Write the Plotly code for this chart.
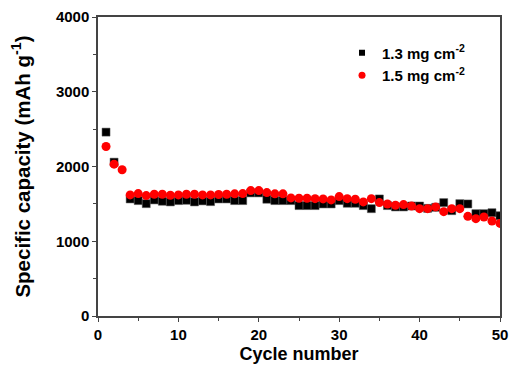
import plotly.graph_objects as go

cycles = list(range(1, 51))
cap_13 = [2460, 2058, None, 1566, 1544, 1503, 1553, 1535, 1526, 1544,
          1548, 1526, 1540, 1530, 1566, 1566, 1544, 1544, 1647, 1647,
          1562, 1544, 1544, 1544, 1477, 1477, 1477, 1499, 1499, 1544,
          1508, 1508, 1477, 1436, 1566, 1477, 1459, 1459, 1472, 1472,
          1440, 1454, 1517, 1409, 1503, 1499, 1369, 1369, 1382, 1342]
cap_15 = [2268, 2031, 1956, 1620, 1638, 1611, 1629, 1629, 1615, 1620,
          1629, 1629, 1620, 1620, 1625, 1629, 1634, 1638, 1678, 1678,
          1651, 1634, 1634, 1580, 1575, 1575, 1570, 1566, 1553, 1597,
          1570, 1562, 1526, 1570, 1517, 1499, 1481, 1490, 1472, 1436,
          1436, 1459, 1396, 1436, 1436, 1333, 1302, 1324, 1271, 1239]
names = ["1.3 mg cm<sup>-2</sup>", "1.5 mg cm<sup>-2</sup>"]

FONT = "Arial, Liberation Sans, sans-serif"
AX = "#444444"

fig = go.Figure()
fig.add_trace(go.Scatter(
    x=cycles, y=cap_13, mode="markers", name=names[0], showlegend=False,
    marker=dict(symbol="square", size=8, color="black",
                line=dict(color="#555555", width=0.5))))
fig.add_trace(go.Scatter(
    x=cycles, y=cap_15, mode="markers", name=names[1], showlegend=False,
    marker=dict(symbol="circle", size=9, color="#ff0000",
                line=dict(width=0))))
# legend entries with smaller symbols, as in the reference
fig.add_trace(go.Scatter(
    x=[None], y=[None], mode="markers", name=names[0],
    marker=dict(symbol="square", size=6, color="black")))
fig.add_trace(go.Scatter(
    x=[None], y=[None], mode="markers", name=names[1],
    marker=dict(symbol="circle", size=7, color="#ff0000")))

axis_common = dict(
    showline=True, linecolor=AX, linewidth=1.5, mirror=True,
    ticks="outside", ticklen=4, tickwidth=1.2, tickcolor=AX,
    showgrid=False, zeroline=False, automargin=False,
    tickfont=dict(family=FONT, size=15, color="black", weight="bold"),
)

fig.update_xaxes(
    range=[0, 50], tick0=0, dtick=10,
    minor=dict(ticks="outside", ticklen=3, dtick=5, tickcolor=AX, tickwidth=1.2),
    title=dict(text="Cycle number", font=dict(family=FONT, size=18, color="black", weight="bold"),
               standoff=6),
    **axis_common)
fig.update_yaxes(
    range=[0, 4000], tick0=0, dtick=1000,
    minor=dict(ticks="outside", ticklen=3, dtick=500, tickcolor=AX, tickwidth=1.2),
    title=dict(text="Specific capacity (mAh g<sup>-1</sup>)",
               font=dict(family=FONT, size=20.5, color="black", weight="bold"),
               standoff=20),
    **axis_common)

fig.update_layout(
    width=510, height=374,
    margin=dict(l=98, r=10, t=17, b=58),
    paper_bgcolor="white", plot_bgcolor="white",
    showlegend=True,
    legend=dict(x=0.607, y=0.935, xanchor="left", yanchor="top",
                bgcolor="rgba(0,0,0,0)", tracegroupgap=0,
                font=dict(family=FONT, size=15, color="black", weight="bold"),
                itemwidth=30),
)

fig.write_html("out.html")
